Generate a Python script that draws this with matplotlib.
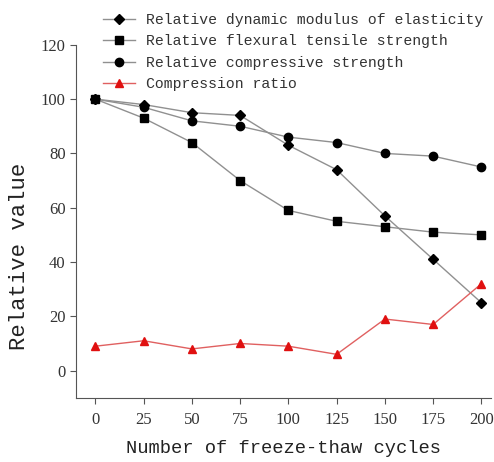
import matplotlib
matplotlib.use("Agg")
import matplotlib.pyplot as plt

cycles = [0, 25, 50, 75, 100, 125, 150, 175, 200]
dynamic_modulus = [100, 98, 95, 94, 83, 74, 57, 41, 25]
flexural_strength = [100, 93, 84, 70, 59, 55, 53, 51, 50]
compressive_strength = [100, 97, 92, 90, 86, 84, 80, 79, 75]
compression_ratio = [9, 11, 8, 10, 9, 6, 19, 17, 32]

mono = "Liberation Mono"
serif = "Liberation Serif"

fig = plt.figure(figsize=(4.94, 4.62), dpi=100)
ax = fig.add_axes([0.154, 0.139, 0.84, 0.764])

ax.plot(cycles, dynamic_modulus, color="#909090", lw=1, marker="D", ms=5,
        mfc="black", mec="black", label="Relative dynamic modulus of elasticity")
ax.plot(cycles, flexural_strength, color="#909090", lw=1, marker="s", ms=5.5,
        mfc="black", mec="black", label="Relative flexural tensile strength")
ax.plot(cycles, compressive_strength, color="#909090", lw=1, marker="o", ms=6,
        mfc="black", mec="black", label="Relative compressive strength")
ax.plot(cycles, compression_ratio, color="#e06060", lw=1, marker="^", ms=6,
        mfc="#e01010", mec="#e01010", label="Compression ratio")

ax.set_xlim(-10, 205)
ax.set_ylim(-10, 120)
ax.set_xticks(cycles)
ax.set_yticks([0, 20, 40, 60, 80, 100, 120])
for lab in ax.get_xticklabels() + ax.get_yticklabels():
    lab.set_fontfamily(serif)
    lab.set_fontsize(12)
    lab.set_color("#333333")

ax.spines["top"].set_visible(False)
ax.spines["right"].set_visible(False)
ax.spines["left"].set_color("#555555")
ax.spines["bottom"].set_color("#555555")
ax.tick_params(direction="out", length=4, color="#555555")
ax.tick_params(axis="x", pad=6)

ax.set_xlabel("Number of freeze-thaw cycles", fontfamily=mono, fontsize=13.5,
              color="#222222", labelpad=9)
ax.set_ylabel("Relative value", fontfamily=mono, fontsize=16,
              color="#222222")
ax.yaxis.set_label_coords(-0.112, 0.40)

leg = ax.legend(loc="upper left", bbox_to_anchor=(0.065, 1.09), frameon=False,
                prop={"family": mono, "size": 10.6}, handlelength=2.2,
                handletextpad=0.7, labelspacing=0.5, borderaxespad=0,
                borderpad=0)
for t in leg.get_texts():
    t.set_color("#333333")

fig.savefig("out.png", dpi=100)
